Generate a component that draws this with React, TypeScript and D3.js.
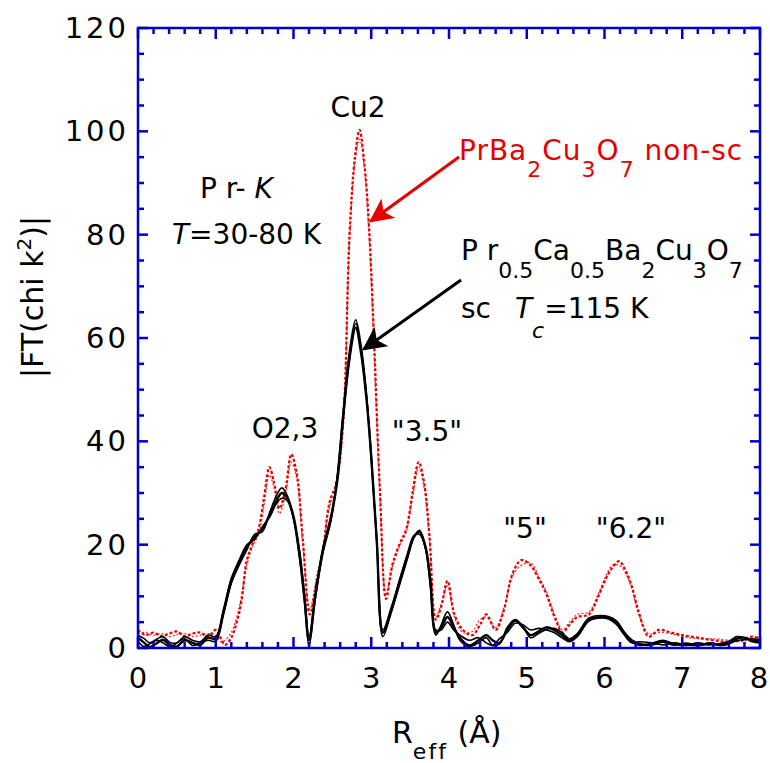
import React from 'react';
import * as d3 from 'd3';

// R grid (Å) for the three sc curves (T = 30-80 K)
const R_SC = [0, 0.08, 0.15, 0.25, 0.32, 0.42, 0.5, 0.6, 0.7, 0.8,
  0.9, 1.0, 1.1, 1.2, 1.3, 1.4, 1.5, 1.6, 1.7, 1.78,
  1.85, 1.92, 2.0, 2.08, 2.14, 2.2, 2.28, 2.38, 2.48, 2.56,
  2.64, 2.72, 2.8, 2.87, 2.94, 3.0, 3.07, 3.15, 3.25, 3.36,
  3.47, 3.55, 3.62, 3.7, 3.76, 3.83, 3.9, 3.98, 4.06, 4.14,
  4.26, 4.38, 4.48, 4.56, 4.65, 4.75, 4.85, 4.95, 5.05, 5.15,
  5.25, 5.35, 5.45, 5.55, 5.65, 5.8, 5.95, 6.05, 6.15, 6.25,
  6.35, 6.45, 6.6, 6.75, 6.9, 7.05, 7.2, 7.35, 7.5, 7.6,
  7.7, 7.8, 7.9, 8.0];

const SC_A = [2.0, 1.0, 0.2, 1.0, 1.6, 0.5, 0.3, 1.5, 1.0, 0.6,
  2.0, 1.8, 7, 13, 16.5, 19.5, 21.5, 23, 26, 28.5,
  30, 29, 25.5, 18, 10, 1.5, 10, 19, 25, 32,
  45, 56, 62, 57, 48, 37, 21, 3, 7, 12.5,
  18, 21.5, 22.5, 19.5, 13, 3, 4, 6, 4, 2,
  0.5, 1.5, 2.5, 1.5, 1.0, 3.5, 5.3, 4, 2.5, 3.2,
  4, 3.5, 2.5, 1.5, 2.5, 5.5, 6, 5.9, 5, 3,
  1.5, 0.8, 0.6, 1.2, 0.6, 0.9, 0.5, 0.8, 0.6, 1.0,
  1.8, 2.0, 1.5, 1.4];

const SC_B = [1.2, 0.3, 0.8, 1.5, 1.0, 0.2, 1.0, 1.8, 0.5, 1.0,
  1.5, 1.3, 6.5, 12.5, 16, 19, 22, 22.5, 26.5, 29.5,
  31, 29.5, 25, 17, 9, 0.3, 9.5, 18.5, 24.5, 33,
  46, 57.5, 63.5, 58.5, 49, 37.5, 20.5, 2.2, 6.5, 12,
  17.5, 21.5, 22.8, 19, 12, 2.5, 4.5, 7, 4.5, 1.5,
  0.3, 1.0, 2.0, 0.5, 0.8, 4.0, 5.5, 4.2, 2.0, 2.8,
  3.6, 3.8, 3.0, 1.8, 2.8, 5.8, 6.3, 6.1, 5.3, 3.2,
  1.2, 0.5, 0.9, 1.5, 0.8, 0.5, 1.0, 0.6, 0.9, 1.3,
  2.2, 2.0, 1.2, 1.0];

const SC_C = [2.5, 1.8, 1.0, 1.8, 2.2, 1.0, 1.0, 2.2, 1.5, 1.2,
  2.5, 2.2, 7.5, 13.5, 17, 20, 21, 23.5, 25.5, 28,
  29, 28.5, 25, 18.5, 10.5, 2.2, 10.5, 19.5, 25.5, 32.5,
  44.5, 56, 62.8, 57.5, 48.5, 36.5, 21.5, 3.5, 7.5, 13,
  18.5, 21.8, 22, 19.2, 13, 3.5, 3.5, 5, 3.5, 2.5,
  1.5, 2.0, 1.0, 0.5, 1.8, 3.0, 4.8, 4.5, 3.5, 3.8,
  3.5, 3.0, 2.0, 1.2, 2.2, 5.2, 5.8, 5.6, 4.6, 2.6,
  1.0, 1.2, 1.0, 0.6, 1.0, 0.6, 0.5, 1.0, 0.5, 0.8,
  1.4, 1.6, 1.8, 1.6];

// R grid for the two non-sc PrBa2Cu3O7 curves
const R_NONSC = [0, 0.1, 0.2, 0.3, 0.4, 0.5, 0.6, 0.7, 0.8, 0.9,
  1.0, 1.06, 1.12, 1.2, 1.27, 1.33, 1.4, 1.47, 1.55, 1.62,
  1.69, 1.75, 1.82, 1.9, 1.97, 2.04, 2.12, 2.21, 2.3, 2.38,
  2.46, 2.55, 2.64, 2.72, 2.79, 2.85, 2.91, 2.97, 3.03, 3.11,
  3.19, 3.27, 3.36, 3.45, 3.53, 3.61, 3.68, 3.75, 3.83, 3.9,
  3.98, 4.07, 4.18, 4.3, 4.4, 4.48, 4.6, 4.7, 4.82, 4.93,
  5.05, 5.15, 5.25, 5.37, 5.46, 5.55, 5.65, 5.8, 5.92, 6.02,
  6.1, 6.19, 6.27, 6.35, 6.44, 6.57, 6.7, 6.85, 7.0, 7.2,
  7.4, 7.6, 7.75, 7.9, 8.0];

const NONSC_A = [3.5, 2.5, 3.0, 2.3, 2.8, 3.2, 2.3, 2.8, 3.0, 2.2,
  3.5, 2.0, 0.6, 2.0, 5.0, 9.0, 17, 20, 23, 29,
  35, 32, 27, 31, 37.5, 34, 21, 6.5, 13, 19,
  28, 32, 44, 80, 95, 100.3, 94, 82, 62, 31,
  9.5, 16, 20, 23, 30, 36, 32, 21.5, 5.5, 8,
  13, 6.5, 3.5, 2.5, 4.5, 6.5, 3.5, 7, 14.5, 17,
  16, 13.5, 10.5, 5.5, 3, 4.5, 6, 6.5, 10, 13.5,
  15.5, 16.8, 15, 12, 7, 2.2, 3.5, 3.0, 2.5, 2.0,
  1.5, 1.2, 1.5, 2.2, 1.8];

const NONSC_B = [2.8, 3.0, 2.5, 2.8, 2.2, 2.6, 2.8, 2.2, 2.5, 2.8,
  2.5, 1.2, 1.5, 3.0, 6.0, 10, 16, 19.5, 22, 27.5,
  33.5, 31, 26, 30, 36, 33, 20, 7.5, 14, 19.5,
  27, 31, 43, 78, 94, 98.5, 93, 80, 60, 30,
  10.5, 15.5, 19.5, 22.5, 29, 35, 31, 20.5, 6.0, 8.5,
  12, 6, 3, 3.2, 5.5, 6.0, 4.0, 7.5, 14, 16,
  16.5, 14, 11, 6, 3.5, 5.0, 6.5, 7, 10.5, 14,
  16, 16, 14.5, 11.5, 6.5, 2.8, 3.0, 2.8, 2.2, 1.8,
  1.8, 1.5, 1.2, 1.8, 2.2];

const X_TICKS = [0, 1, 2, 3, 4, 5, 6, 7, 8];
const Y_TICKS = [0, 20, 40, 60, 80, 100, 120];

const BLUE = '#0000cc';
const RED = '#e60000';
const FONT = '"DejaVu Sans", Verdana, sans-serif';

const W = 770;
const H = 763;
const M = { left: 138, right: 760, top: 28, bottom: 648 };

export default function App() {
  const x = d3.scaleLinear().domain([0, 8]).range([M.left, M.right]);
  const y = d3.scaleLinear().domain([0, 120]).range([M.bottom, M.top]);

  const line = (rs: number[], vs: number[]) =>
    d3.line<number>()
      .x((_, i) => x(rs[i]))
      .y((v) => y(v))
      .curve(d3.curveCatmullRom.alpha(0.5))(vs) || '';

  const xMinor = d3.range(0, 40).map((i) => i * 0.2).filter((v, i) => i % 5 !== 0);
  const yMinor = d3.range(0, 24).map((i) => i * 5).filter((v) => v % 20 !== 0);

  const sub = { fontSize: 22 };

  return (
    <svg width={W} height={H} style={{ position: 'absolute', left: 0, top: 0, background: '#fff' }}
      fontFamily={FONT}>
      <defs>
        <clipPath id="plot">
          <rect x={M.left} y={M.top} width={M.right - M.left} height={M.bottom - M.top} />
        </clipPath>
        <marker id="ahRed" viewBox="0 0 10 10" refX="9" refY="5" markerWidth="8" markerHeight="8"
          markerUnits="strokeWidth" orient="auto">
          <path d="M0,0 L10,5 L0,10 L2.5,5 z" fill={RED} />
        </marker>
        <marker id="ahBlack" viewBox="0 0 10 10" refX="9" refY="5" markerWidth="8" markerHeight="8"
          markerUnits="strokeWidth" orient="auto">
          <path d="M0,0 L10,5 L0,10 L2.5,5 z" fill="#000" />
        </marker>
      </defs>

      {/* data */}
      <g clipPath="url(#plot)" fill="none">
        <path d={line(R_NONSC, NONSC_B)} stroke={RED} strokeWidth={1.3} strokeDasharray="2,2" opacity={0.8} />
        <path d={line(R_NONSC, NONSC_A)} stroke={RED} strokeWidth={2.2} strokeDasharray="3,2" />
        <path d={line(R_SC, SC_C)} stroke="#000" strokeWidth={1.6} />
        <path d={line(R_SC, SC_B)} stroke="#000" strokeWidth={1.6} />
        <path d={line(R_SC, SC_A)} stroke="#000" strokeWidth={2.4} />
      </g>

      {/* frame & ticks */}
      <g stroke={BLUE} strokeWidth={2.5} fill="none">
        <rect x={M.left} y={M.top} width={M.right - M.left} height={M.bottom - M.top} />
        {X_TICKS.map((t) => (
          <g key={'xt' + t}>
            <line x1={x(t)} x2={x(t)} y1={M.bottom} y2={M.bottom - 11} />
            <line x1={x(t)} x2={x(t)} y1={M.top} y2={M.top + 11} />
          </g>
        ))}
        {xMinor.map((t) => (
          <g key={'xm' + t}>
            <line x1={x(t)} x2={x(t)} y1={M.bottom} y2={M.bottom - 6} />
            <line x1={x(t)} x2={x(t)} y1={M.top} y2={M.top + 6} />
          </g>
        ))}
        {Y_TICKS.map((t) => (
          <g key={'yt' + t}>
            <line x1={M.left} x2={M.left + 10} y1={y(t)} y2={y(t)} />
            <line x1={M.right} x2={M.right - 10} y1={y(t)} y2={y(t)} />
          </g>
        ))}
        {yMinor.map((t) => (
          <g key={'ym' + t}>
            <line x1={M.left} x2={M.left + 6} y1={y(t)} y2={y(t)} />
            <line x1={M.right} x2={M.right - 6} y1={y(t)} y2={y(t)} />
          </g>
        ))}
      </g>

      {/* tick labels */}
      <g fontSize={29} fill="#000">
        {X_TICKS.map((t) => (
          <text key={'xl' + t} x={t === 8 ? x(t) - 1 : x(t)} y={688} textAnchor="middle">{t}</text>
        ))}
        {Y_TICKS.map((t) => (
          <text key={'yl' + t} x={129} y={y(t) + 10} textAnchor="end" letterSpacing={3}>{t}</text>
        ))}
      </g>

      {/* axis titles */}
      <text x={392} y={743} fontSize={30}>
        R<tspan dy={16} fontSize={22} letterSpacing={2}>eff</tspan><tspan dy={-16}> (Å)</tspan>
      </text>
      <text transform="translate(43,297) rotate(-90)" textAnchor="middle" fontSize={30}>
        |FT(chi k<tspan dy={-12} fontSize={20}>2</tspan><tspan dy={12}>)|</tspan>
      </text>

      {/* annotations */}
      <g fontSize={28} fill="#000">
        <text x={358} y={117} textAnchor="middle">Cu2</text>
        <text x={200} y={198}>P r- <tspan fontStyle="italic">K</tspan></text>
        <text x={172} y={244}><tspan fontStyle="italic">T</tspan>=30-80 K</text>
        <text x={285} y={438} textAnchor="middle">O2,3</text>
        <text x={427} y={441} textAnchor="middle">"3.5"</text>
        <text x={525} y={538} textAnchor="middle">"5"</text>
        <text x={631} y={538} textAnchor="middle">"6.2"</text>
      </g>

      <text x={459} y={160} fontSize={28} fill={RED} letterSpacing={1}>
        PrBa<tspan dy={17} {...sub}>2</tspan><tspan dy={-17}>Cu</tspan>
        <tspan dy={17} {...sub}>3</tspan><tspan dy={-17}>O</tspan>
        <tspan dy={17} {...sub}>7</tspan><tspan dy={-17}>  non-sc</tspan>
      </text>

      <text x={461} y={260} fontSize={28} fill="#000">
        P r<tspan dy={18} {...sub}>0.5</tspan><tspan dy={-18}>Ca</tspan>
        <tspan dy={18} {...sub}>0.5</tspan><tspan dy={-18}>Ba</tspan>
        <tspan dy={18} {...sub}>2</tspan><tspan dy={-18}>Cu</tspan>
        <tspan dy={18} {...sub}>3</tspan><tspan dy={-18}>O</tspan>
        <tspan dy={18} {...sub}>7</tspan>
      </text>
      <text x={461} y={318} fontSize={28} fill="#000">sc</text>
      <text x={515} y={318} fontSize={28} fill="#000">
        <tspan fontStyle="italic">T</tspan><tspan dy={20} fontSize={22} fontStyle="italic">c</tspan>
        <tspan dy={-20}>=115 K</tspan>
      </text>

      {/* arrows */}
      <line x1={459} y1={157} x2={371} y2={221} stroke={RED} strokeWidth={3} markerEnd="url(#ahRed)" />
      <line x1={461} y1={280} x2={364} y2={349} stroke="#000" strokeWidth={3} markerEnd="url(#ahBlack)" />
    </svg>
  );
}
